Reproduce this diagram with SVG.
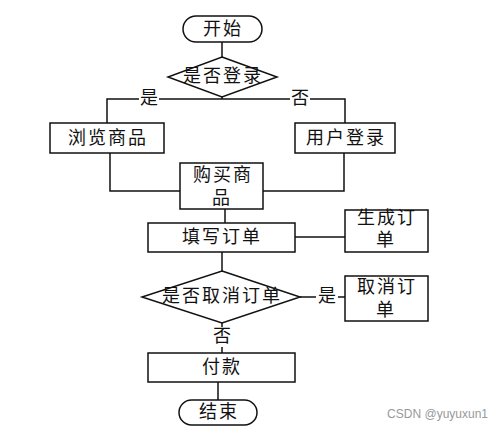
<svg xmlns="http://www.w3.org/2000/svg" width="500" height="430" viewBox="0 0 500 430">
<style>
.n{fill:#fff;stroke:#111;stroke-width:1.5}
.c{fill:none;stroke:#111;stroke-width:1.5}
.t{font-family:"Liberation Serif","Noto Sans CJK SC",serif;font-size:18px;letter-spacing:2px;fill:#111;text-anchor:middle;dominant-baseline:central}
.lb{fill:#fff;stroke:none}
.w{font-family:"Liberation Sans","DejaVu Sans",sans-serif;font-size:12px;fill:#999;text-anchor:end}
</style>
<rect width="500" height="430" fill="#fff"/>
<g id="connectors">
<path class="c" d="M222 42V57"/>
<path class="c" d="M222 97V99H107V123M222 99H345V123"/>
<path class="c" d="M110 153V191H180M344 153V191H263"/>
<path class="c" d="M225 209V223"/>
<path class="c" d="M295 237H345"/>
<path class="c" d="M222 252V271"/>
<path class="c" d="M300 297H345"/>
<path class="c" d="M222 323V353"/>
<path class="c" d="M218 382V400"/>
<rect class="lb" x="139" y="89" width="20" height="20"/>
<text class="t" x="150" y="98">是</text>
<rect class="lb" x="290" y="89" width="20" height="20"/>
<text class="t" x="301" y="98">否</text>
<rect class="lb" x="316" y="287" width="22" height="20"/>
<text class="t" x="328" y="296">是</text>
<rect class="lb" x="212" y="327" width="20" height="20"/>
<text class="t" x="223" y="336">否</text>
</g>
<g id="start">
<rect class="n" x="183" y="16" width="79" height="26" rx="13"/>
<text class="t" x="223" y="29">开始</text>
</g>
<g id="isLogin">
<polygon class="n" points="222,57 277,77 222,97 168,77"/>
<text class="t" x="223" y="76">是否登录</text>
</g>
<g id="browse">
<rect class="n" x="50" y="123" width="114" height="30"/>
<text class="t" x="108" y="138">浏览商品</text>
</g>
<g id="login">
<rect class="n" x="295" y="123" width="100" height="30"/>
<text class="t" x="346" y="138">用户登录</text>
</g>
<g id="buy">
<rect class="n" x="180" y="163" width="83" height="46"/>
<text class="t" x="223" y="175">购买商</text>
<text class="t" x="222" y="198">品</text>
</g>
<g id="fill">
<rect class="n" x="148" y="223" width="147" height="29"/>
<text class="t" x="222" y="237">填写订单</text>
</g>
<g id="gen">
<rect class="n" x="345" y="210" width="83" height="42"/>
<text class="t" x="387" y="218">生成订</text>
<text class="t" x="386" y="240">单</text>
</g>
<g id="isCancel">
<polygon class="n" points="222,271 300,297 222,323 142,297"/>
<text class="t" x="222" y="296">是否取消订单</text>
</g>
<g id="cancel">
<rect class="n" x="345" y="276" width="83" height="45"/>
<text class="t" x="387" y="287">取消订</text>
<text class="t" x="386" y="310">单</text>
</g>
<g id="pay">
<rect class="n" x="148" y="353" width="147" height="29"/>
<text class="t" x="222" y="367">付款</text>
</g>
<g id="end">
<rect class="n" x="179" y="400" width="78" height="25" rx="12.5"/>
<text class="t" x="219" y="412">结束</text>
</g>
<text class="w" x="488" y="418">CSDN @yuyuxun1</text>
</svg>
